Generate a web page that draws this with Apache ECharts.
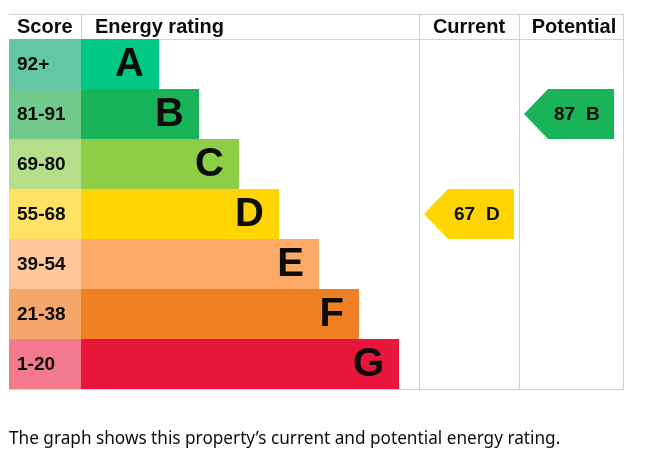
<!DOCTYPE html>
<html><head><meta charset="utf-8">
<script src="https://cdn.jsdelivr.net/npm/echarts@6/dist/echarts.min.js"></script>
<style>html,body{margin:0;padding:0;background:#fff}#c{width:665px;height:457px}</style>
</head><body><div id="c"></div>
<script>
// ---- data ----
const bands = ['A', 'B', 'C', 'D', 'E', 'F', 'G'];
const scoreRanges = ['92+', '81-91', '69-80', '55-68', '39-54', '21-38', '1-20'];
const bandMin = [92, 81, 69, 55, 39, 21, 1];
const bandLength = [1, 2, 3, 4, 5, 6, 7];
const headers = ['Score', 'Energy rating', 'Current', 'Potential'];
const currentScore = 67;
const potentialScore = 87;
const caption = 'The graph shows this property\u2019s current and potential energy rating.';

// ---- styles ----
const barColors = ['#00c781', '#19b459', '#8dce46', '#ffd500', '#fcaa65', '#ef8023', '#e9153b'];
const scoreColors = ['#62c6a7', '#72c98c', '#b5de8b', '#ffe265', '#fdc69b', '#f4a66b', '#f37a8d'];
const FONT = '"Liberation Sans", Arial, sans-serif';
const LINE = '#d2d2d2';

function bandOf(score) {
  for (let i = 0; i < bandMin.length; i++) if (score >= bandMin[i]) return i;
  return bandMin.length - 1;
}
const ratings = [currentScore, potentialScore].map((s, col) => {
  const b = bandOf(s);
  return [col, b, s, bands[b]];
});

// table geometry (px units on x axis)
const SCORE_W = 72, COL_X = [410, 510];

const chart = echarts.init(document.getElementById('c'), null, { renderer: 'canvas' });
chart.setOption({
  animation: false,
  grid: { left: 9, top: 39, width: 614, height: 350, containLabel: false },
  xAxis: { type: 'value', min: 0, max: 614, show: false },
  yAxis: { type: 'category', data: bands, inverse: true, show: false },
  graphic: [
    // table lines
    { type: 'line', shape: { x1: 9, y1: 14.5, x2: 623, y2: 14.5 }, style: { stroke: LINE, lineWidth: 1 }, z: 1 },
    { type: 'line', shape: { x1: 9, y1: 39.5, x2: 623, y2: 39.5 }, style: { stroke: LINE, lineWidth: 1 }, z: 1 },
    { type: 'line', shape: { x1: 9, y1: 389.5, x2: 623, y2: 389.5 }, style: { stroke: LINE, lineWidth: 1 }, z: 1 },
    { type: 'line', shape: { x1: 81.5, y1: 14, x2: 81.5, y2: 39 }, style: { stroke: LINE, lineWidth: 1 }, z: 1 },
    { type: 'line', shape: { x1: 419.5, y1: 14, x2: 419.5, y2: 390 }, style: { stroke: LINE, lineWidth: 1 }, z: 1 },
    { type: 'line', shape: { x1: 519.5, y1: 14, x2: 519.5, y2: 390 }, style: { stroke: LINE, lineWidth: 1 }, z: 1 },
    { type: 'line', shape: { x1: 623.5, y1: 14, x2: 623.5, y2: 390 }, style: { stroke: LINE, lineWidth: 1 }, z: 1 },
    // headers
    { type: 'text', style: { text: headers[0], x: 17, y: 27, fill: '#0b0c0c', font: 'bold 20px ' + FONT, verticalAlign: 'middle' } },
    { type: 'text', style: { text: headers[1], x: 95, y: 27, fill: '#0b0c0c', font: 'bold 20px ' + FONT, verticalAlign: 'middle' } },
    { type: 'text', style: { text: headers[2], x: 469, y: 27, fill: '#0b0c0c', font: 'bold 20px ' + FONT, align: 'center', verticalAlign: 'middle' } },
    { type: 'text', style: { text: headers[3], x: 574, y: 27, fill: '#0b0c0c', font: 'bold 20px ' + FONT, align: 'center', verticalAlign: 'middle' } },
    // caption
    { type: 'text', style: { text: caption, x: 9, y: 439, fill: '#0b0c0c', font: '17.2px "Noto Sans", sans-serif', verticalAlign: 'middle' } }
  ],
  series: [
    {
      type: 'custom',
      data: bands.map((b, i) => [i, bandLength[i]]),
      renderItem: function (params, api) {
        const i = api.value(0), len = api.value(1);
        const c = api.coord([0, i]);
        const h = api.size([0, 1])[1];
        const top = c[1] - h / 2;
        const x0 = c[0];
        const x1 = api.coord([SCORE_W, i])[0];
        const x2 = api.coord([SCORE_W + 40 * (len + 1) - 2, i])[0];
        return {
          type: 'group',
          children: [
            { type: 'rect', shape: { x: x0, y: top, width: x1 - x0, height: h }, style: { fill: scoreColors[i] } },
            { type: 'rect', shape: { x: x1, y: top, width: x2 - x1, height: h }, style: { fill: barColors[i] } },
            { type: 'text', style: { text: scoreRanges[i], x: x0 + 8, y: c[1] + 1, fill: '#0b0c0c', font: 'bold 19px ' + FONT, verticalAlign: 'middle' } },
            { type: 'text', style: { text: bands[i], x: x2 - 15, y: c[1] + 1, fill: '#0b0c0c', font: 'bold 40px ' + FONT, align: 'right', verticalAlign: 'middle' } }
          ]
        };
      },
      z: 2
    },
    {
      type: 'custom',
      data: ratings,
      renderItem: function (params, api) {
        const col = api.value(0), b = api.value(1), s = api.value(2);
        const letter = bands[b];
        const c = api.coord([COL_X[col], b]);
        const h = api.size([0, 1])[1];
        const top = c[1] - h / 2, bot = c[1] + h / 2;
        const tip = api.coord([COL_X[col] + 5, b])[0];
        const body = api.coord([COL_X[col] + 29, b])[0];
        const right = api.coord([COL_X[col] + 95, b])[0];
        return {
          type: 'group',
          children: [
            { type: 'polygon', shape: { points: [[tip, c[1]], [body, top], [right, top], [right, bot], [body, bot]] }, style: { fill: barColors[b] } },
            { type: 'text', style: { text: String(s), x: tip + 30, y: c[1] + 1, fill: '#0b0c0c', font: 'bold 19px ' + FONT, verticalAlign: 'middle' } },
            { type: 'text', style: { text: letter, x: tip + 62, y: c[1] + 1, fill: '#0b0c0c', font: 'bold 19px ' + FONT, verticalAlign: 'middle' } }
          ]
        };
      },
      z: 3
    }
  ]
});
</script></body></html>
